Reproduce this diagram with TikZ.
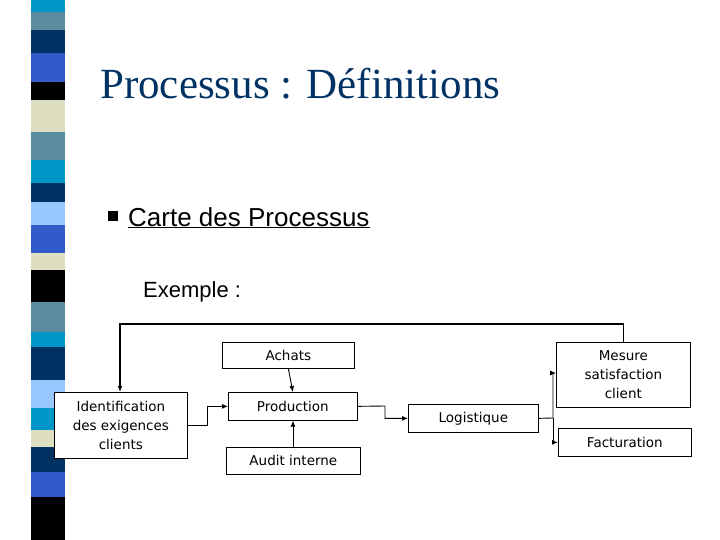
\documentclass[tikz,border=0pt]{standalone}
\usepackage{fontspec}
\usetikzlibrary{arrows.meta}
\setmainfont{Liberation Serif}
\newfontfamily\boxf{DejaVu Sans}
\newfontfamily\sans{Liberation Sans}
\begin{document}
\begin{tikzpicture}[x=1pt,y=-1pt,
  bx/.style={draw,fill=white,line width=0.7pt,font=\boxf\fontsize{13.5}{19}\selectfont,align=center,inner sep=0pt,anchor=north west},
  ar/.style={-{Latex[length=6pt,width=5pt]},line width=0.9pt}]
\useasboundingbox (0,0) rectangle (720,540);
\definecolor{cy}{RGB}{0,150,200}\definecolor{sl}{RGB}{90,140,160}
\definecolor{nv}{RGB}{0,50,100}\definecolor{rb}{RGB}{50,90,200}
\definecolor{bg}{RGB}{222,222,192}\definecolor{lb}{RGB}{150,200,255}
\foreach \a/\b/\c in {0/12/cy,12/30/sl,30/53/nv,53/82/rb,82/100/black,100/132/bg,132/160/sl,160/183/cy,183/202/nv,202/225/lb,225/253/rb,253/270/bg,270/302/black,302/332/sl,332/347/cy,347/380/nv,380/408/lb,408/430/cy,430/447/bg,447/472/nv,472/497/rb,497/540/black}
  \fill[\c] (31,\a) rectangle (65,\b);
\node[anchor=base west,font=\fontsize{43}{47}\selectfont,text=nv,inner sep=0pt] (title) at (100,99) {Processus : Définitions};
\fill (108,211) rectangle (118,221) coordinate (bul);
\node[anchor=base west,font=\sans\fontsize{26}{30}\selectfont,inner sep=0pt] (carte) at (128,226) {\underline{Carte des Processus}};
\node[anchor=base west,font=\sans\fontsize{22}{26}\selectfont,inner sep=0pt] (ex) at (143,297) {Exemple :};
\node[bx,minimum width=133pt,minimum height=66pt] (id) at (54,392) {Identification\\des exigences\\clients};
\node[bx,minimum width=132pt,minimum height=26pt] (ach) at (222,342) {Achats};
\node[bx,minimum width=129pt,minimum height=28pt] (prod) at (228,392) {Production};
\node[bx,minimum width=134pt,minimum height=27pt] (aud) at (226,447) {Audit interne};
\node[bx,minimum width=130pt,minimum height=28pt] (log) at (408,404) {Logistique};
\node[bx,minimum width=134pt,minimum height=65pt] (mes) at (556,342) {Mesure\\satisfaction\\client};
\node[bx,minimum width=133pt,minimum height=28pt] (fac) at (558,428) {Facturation};
\draw[ar,line width=1.5pt] (mes.north) |- (120,324) -- (id.north -| 120,0);
\draw[ar] (id.east |- 0,425) -- (207,425) |- (prod.west);
\draw[ar] (prod.east) -- (385,406) |- (log.west);
\draw[ar] (log.east) -- (553,418) |- (mes.west |- 0,373);
\draw[ar] (553,418) |- (fac.west);
\draw[ar] (ach.south) -- (prod.north);
\draw[ar] (aud.north -| 293,0) -- (prod.south -| 293,0);
\end{tikzpicture}
\end{document}
